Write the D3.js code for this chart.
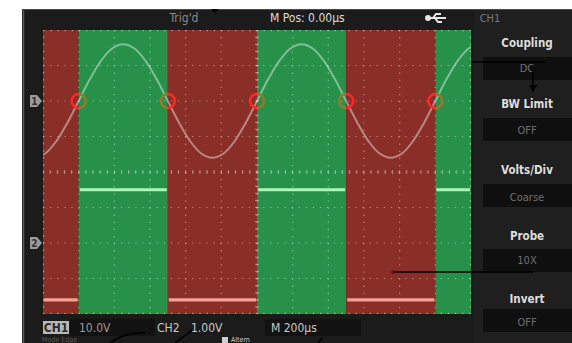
<!DOCTYPE html>
<html><head><meta charset="utf-8">
<script src="https://cdn.jsdelivr.net/npm/d3@7/dist/d3.min.js"></script>
<style>body{margin:0;background:#fff}svg{display:block}</style>
</head><body>
<script>
// ---- data (divisions on the oscilloscope screen) ----
const xTicks = [-6,-5,-4,-3,-2,-1,0,1,2,3,4,5,6];
const yTicks = [-4,-3,-2,-1,0,1,2,3,4];
const ch1Offset = 2, ch2Offset = -2;
// CH1 sine samples (time in div, amplitude in div)
const sineT = [-6.25,-5.9375,-5.625,-5.3125,-5,-4.6875,-4.375,-4.0625,-3.75,-3.4375,-3.125,-2.8125,-2.5,-2.1875,-1.875,-1.5625,-1.25,-0.9375,-0.625,-0.3125,0,0.3125,0.625,0.9375,1.25,1.5625,1.875,2.1875,2.5,2.8125,3.125,3.4375,3.75,4.0625,4.375,4.6875,5,5.3125,5.625,5.9375,6.25];
const sineV = [-1.6,-1.48,-1.13,-0.61,0,0.61,1.13,1.48,1.6,1.48,1.13,0.61,0,-0.61,-1.13,-1.48,-1.6,-1.48,-1.13,-0.61,0,0.61,1.13,1.48,1.6,1.48,1.13,0.61,0,-0.61,-1.13,-1.48,-1.6,-1.48,-1.13,-0.61,0,0.61,1.13,1.48,1.6];
// CH2 square wave segments
const sqStart = [-6,-5,-2.5,0,2.5,5];
const sqEnd   = [-5,-2.5,0,2.5,5,6];
const sqLevel = [-1.6,1.5,-1.6,1.5,-1.6,1.5];
const edges = [-5,-2.5,0,2.5,5];
// texts
const topTexts = ["Trig'd","M Pos: 0.00\u00b5s","CH1"];
const menuLabels = ["Coupling","BW  Limit","Volts/Div","Probe","Invert"];
const menuValues = ["DC","OFF","Coarse","10X","OFF"];
const bottomTexts = ["CH1","10.0V","CH2","1.00V","M 200\u00b5s"];
const footTexts = ["Mode  Edge","Altern"];

const W=572,H=343;
const svg=d3.select("body").append("svg").attr("width",W).attr("height",H);
const font="'Liberation Sans Narrow','DejaVu Sans Condensed',Arial,sans-serif";

// frame
svg.append("rect").attr("x",22).attr("y",9).attr("width",W-22).attr("height",H-9).attr("fill","#1b1b1b");
svg.append("rect").attr("x",474).attr("y",10).attr("width",W-474).attr("height",H-10).attr("fill","#1f1f1f");
svg.append("line").attr("x1",23.5).attr("x2",23.5).attr("y1",9).attr("y2",H).attr("stroke","#5a5a5a").attr("stroke-width",1.5);
svg.append("line").attr("x1",22).attr("x2",W).attr("y1",9.5).attr("y2",9.5).attr("stroke","#4a4a4a").attr("stroke-width",1);

const x=d3.scaleLinear().domain([-6,6]).range([43,471]);
const y=d3.scaleLinear().domain([-4,4]).range([314,30]);

const bandColor=l=>l>0?"#27914a":"#8a2f28";
const segs=sqStart.map((s,i)=>({s,e:sqEnd[i],l:sqLevel[i]}));

// clip paths for bands
const defs=svg.append("defs");
defs.append("clipPath").attr("id","plotClip").append("rect").attr("x",x(-6)).attr("y",y(4)).attr("width",x(6)-x(-6)).attr("height",y(-4)-y(4));
const cpR=defs.append("clipPath").attr("id","redClip");
const cpG=defs.append("clipPath").attr("id","greenClip");
segs.forEach(d=>{
  (d.l>0?cpG:cpR).append("rect").attr("x",x(d.s)).attr("y",y(4)).attr("width",x(d.e)-x(d.s)).attr("height",y(-4)-y(4));
});

const plot=svg.append("g").attr("clip-path","url(#plotClip)");
plot.selectAll("rect.band").data(segs).join("rect").attr("class","band")
  .attr("x",d=>x(d.s)).attr("y",y(4)).attr("width",d=>x(d.e)-x(d.s)).attr("height",y(-4)-y(4))
  .attr("fill",d=>bandColor(d.l));

// grid
const gridCol="rgba(255,255,255,0.4)";
plot.selectAll("line.vg").data(xTicks).join("line").attr("x1",d=>x(d)).attr("x2",d=>x(d)).attr("y1",y(4)).attr("y2",y(-4))
  .attr("stroke",gridCol).attr("stroke-width",1.2).attr("stroke-dasharray","1.3,5.8");
plot.selectAll("line.hg").data(yTicks).join("line").attr("y1",d=>y(d)).attr("y2",d=>y(d)).attr("x1",x(-6)).attr("x2",x(6))
  .attr("stroke",gridCol).attr("stroke-width",1.2).attr("stroke-dasharray","1.3,5.8");
// minor ticks on centre axes
const minorX=d3.range(-6,6.001,0.2), minorY=d3.range(-4,4.001,0.2);
plot.selectAll("line.mx").data(minorX).join("line").attr("x1",d=>x(d)).attr("x2",d=>x(d)).attr("y1",y(0)-2).attr("y2",y(0)+2).attr("stroke",gridCol);
plot.selectAll("line.my").data(minorY).join("line").attr("y1",d=>y(d)).attr("y2",d=>y(d)).attr("x1",x(0)-2).attr("x2",x(0)+2).attr("stroke",gridCol);
// border ticks
plot.append("rect").attr("x",x(-6)+0.5).attr("y",y(4)+0.5).attr("width",x(6)-x(-6)-1).attr("height",y(-4)-y(4)-1)
  .attr("fill","none").attr("stroke",gridCol).attr("stroke-width",1.5).attr("stroke-dasharray","1.3,5.8");

// CH2 square trace
plot.selectAll("line.sq").data(segs).join("line")
  .attr("x1",d=>x(d.s)+1).attr("x2",d=>x(d.e)-1).attr("y1",d=>y(d.l+ch2Offset)).attr("y2",d=>y(d.l+ch2Offset))
  .attr("stroke",d=>d.l>0?"#b3f2b6":"#f3a394").attr("stroke-width",3.2);

// CH1 sine trace
const pts=sineT.map((t,i)=>[t,sineV[i]]);
const line=d3.line().x(d=>x(d[0])).y(d=>y(d[1]+ch1Offset)).curve(d3.curveCatmullRom);
plot.append("path").datum(pts).attr("d",line).attr("fill","none").attr("stroke","rgba(255,255,255,0.42)").attr("stroke-width",2);

// crossing markers
["redClip","greenClip"].forEach((c,k)=>{
  plot.append("g").attr("clip-path",`url(#${c})`).selectAll("circle").data(edges).join("circle")
    .attr("cx",d=>x(d)).attr("cy",y(ch1Offset)).attr("r",7)
    .attr("fill","none").attr("stroke",k===0?"#ff2626":"#957a2c").attr("stroke-width",2.6);
});

// channel markers
[[ch1Offset,"1"],[ch2Offset,"2"]].forEach(([o,l])=>{
  const cy=y(o);
  svg.append("path").attr("d",`M30,${cy-6}h7l5,6l-5,6h-7z`).attr("fill","#9a9a9a");
  svg.append("text").attr("x",34.5).attr("y",cy+4).attr("text-anchor","middle").attr("font-family",font).attr("font-weight","bold")
    .attr("font-size",10).attr("fill","#333").text(l);
});

// top status bar
svg.append("text").attr("x",184).attr("y",22).attr("text-anchor","middle").attr("font-family",font).attr("font-size",12).attr("fill","#8a8a8a").text(topTexts[0]);
svg.append("text").attr("x",270).attr("y",22).attr("font-family",font).attr("font-size",12).attr("fill","#dcdcdc").text(topTexts[1]);
svg.append("text").attr("x",490).attr("y",22).attr("text-anchor","middle").attr("font-family",font).attr("font-size",11).attr("fill","#7a7a7a").text(topTexts[2]);
// usb icon
const usb=svg.append("g").attr("stroke","#e6e6e6").attr("stroke-width",2).attr("fill","#e6e6e6");
usb.append("line").attr("x1",428).attr("x2",446).attr("y1",18).attr("y2",18);
usb.append("polyline").attr("points","433,18 436,14 441,14").attr("fill","none");
usb.append("polyline").attr("points","435,18 438,22 442,22").attr("fill","none");
usb.append("circle").attr("cx",428).attr("cy",18).attr("r",2);
// trigger marker
svg.append("path").attr("d","M211,9h8l-4,4z").attr("fill","#000");

// right menu
const labY=[47,108,174,240,303];
const boxY=[57,118,184,249,309];
const valY=[72,134,201,264,326];
menuLabels.forEach((t,i)=>{
  svg.append("text").attr("x",527).attr("y",labY[i]).attr("text-anchor","middle").attr("font-family",font).attr("font-weight","bold")
    .attr("font-size",11.5).attr("fill","#dedede").text(t);
  svg.append("rect").attr("x",483).attr("y",boxY[i]).attr("width",W-483).attr("height",23).attr("fill","#0f0f0f");
  svg.append("text").attr("x",527).attr("y",valY[i]).attr("text-anchor","middle").attr("font-family",font)
    .attr("font-size",11).attr("fill","#6f6f6f").text(menuValues[i]);
});

// bottom bar
svg.append("rect").attr("x",70).attr("y",319).attr("width",85).attr("height",17).attr("fill","#121212");
svg.append("rect").attr("x",265).attr("y",319).attr("width",96).attr("height",17).attr("fill","#121212");
svg.append("rect").attr("x",43).attr("y",321).attr("width",26).attr("height",13).attr("fill","#b8b8b8");
const bx=[56,79,157,191,271], anc=["middle","start","start","start","start"], bc=["#2a2a2a","#9a9a9a","#c8c8c8","#c8c8c8","#c8c8c8"];
bottomTexts.forEach((t,i)=>{
  svg.append("text").attr("x",bx[i]).attr("y",332).attr("text-anchor",anc[i]).attr("font-family",font).attr("font-size",12)
    .attr("font-weight",i===0?"bold":"normal").attr("fill",bc[i]).text(t);
});
svg.append("rect").attr("x",222).attr("y",337).attr("width",6).attr("height",6).attr("fill","#cfcfcf");
svg.append("text").attr("x",231).attr("y",342).attr("font-family",font).attr("font-size",7).attr("fill","#cfcfcf").text(footTexts[1]);
svg.append("text").attr("x",42).attr("y",342).attr("font-family",font).attr("font-size",7).attr("fill","#5a5a5a").text(footTexts[0]);

// annotation leader lines
const ann=svg.append("g").attr("stroke","#000").attr("stroke-width",1.6).attr("fill","none");
ann.append("line").attr("x1",472).attr("x2",545).attr("y1",62).attr("y2",62);
ann.append("line").attr("x1",533).attr("x2",533).attr("y1",70).attr("y2",92);
svg.append("path").attr("d","M529,85l4,7l4,-7z").attr("fill","#000");
ann.append("line").attr("x1",392).attr("x2",533).attr("y1",272).attr("y2",272);
svg.append("circle").attr("cx",393).attr("cy",272).attr("r",2).attr("fill","#6a1010");
ann.append("path").attr("d","M110,343Q125,332 145,333");
ann.append("path").attr("d","M175,343Q185,336 192,330");
ann.append("path").attr("d","M318,343L322,338");
</script>
</body></html>
